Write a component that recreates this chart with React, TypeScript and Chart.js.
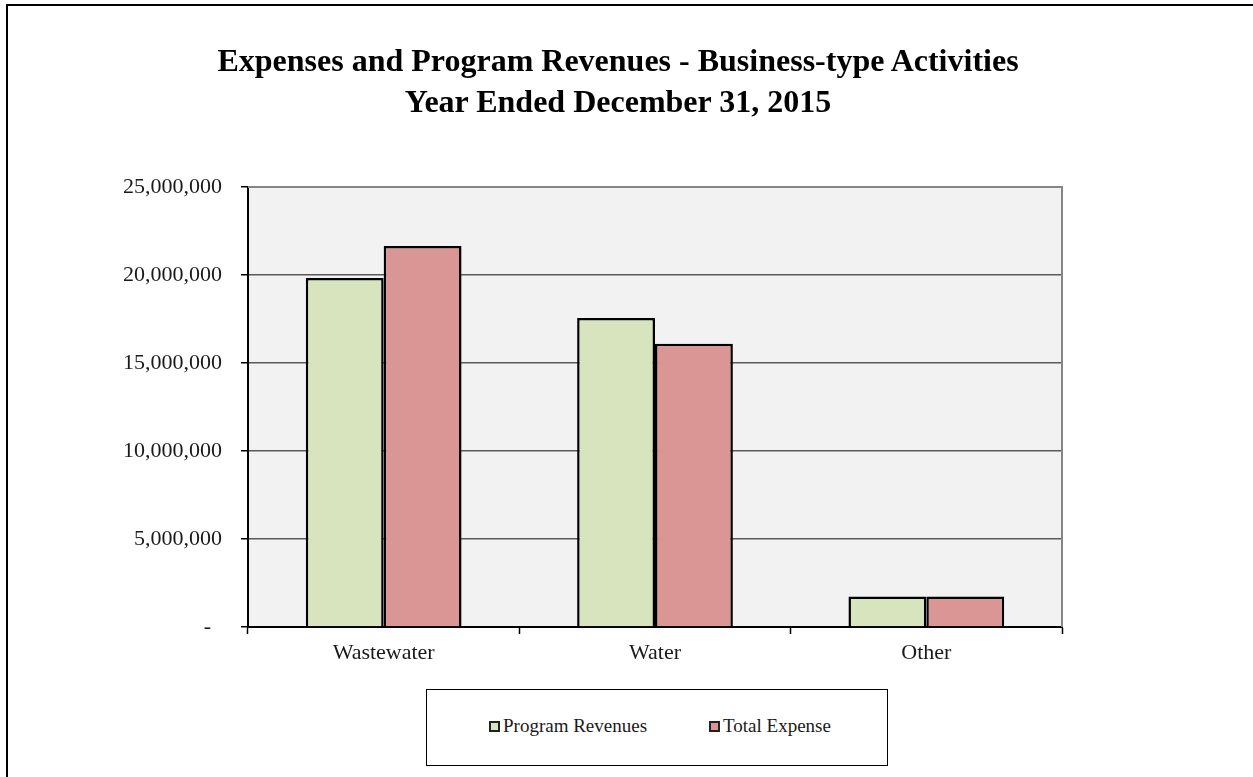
import React, { useEffect, useRef } from "react";
import { Chart, registerables } from "chart.js";

Chart.register(...registerables);

const categories = ["Wastewater", "Water", "Other"];
const programRevenues = [19830000, 17560000, 1740000];
const totalExpense = [21650000, 16100000, 1740000];
const yTicks = [0, 5000000, 10000000, 15000000, 20000000, 25000000];
const seriesNames = ["Program Revenues", "Total Expense"];
const seriesColors = ["#d7e4bd", "#d99694"];
const titleLines = ["Expenses and Program Revenues - Business-type Activities", "Year Ended December 31, 2015"];

const FONT = "'Liberation Serif', 'Times New Roman', serif";

const plotBg = {
  id: "plotBg",
  beforeDraw(chart: any) {
    const { ctx, chartArea: a } = chart;
    ctx.save();
    ctx.fillStyle = "#f2f2f2";
    ctx.fillRect(a.left, a.top, a.right - a.left, a.bottom - a.top);
    ctx.restore();
  },
  afterDatasetsDraw(chart: any) {
    const { ctx, chartArea: a } = chart;
    ctx.save();
    ctx.strokeStyle = "#858585";
    ctx.lineWidth = 2;
    ctx.beginPath();
    ctx.moveTo(a.left, a.top);
    ctx.lineTo(a.right, a.top);
    ctx.lineTo(a.right, a.bottom);
    ctx.stroke();
    ctx.restore();
  },
};

export default function App() {
  const ref = useRef<HTMLCanvasElement>(null);
  useEffect(() => {
    if (!ref.current) return;
    const chart = new Chart(ref.current, {
      type: "bar",
      data: {
        labels: categories,
        datasets: [
          {
            label: seriesNames[0],
            data: programRevenues,
            backgroundColor: seriesColors[0],
            borderColor: "#000000",
            borderWidth: 2.5,
            categoryPercentage: 0.574,
            barPercentage: 1,
          },
          {
            label: seriesNames[1],
            data: totalExpense,
            backgroundColor: seriesColors[1],
            borderColor: "#000000",
            borderWidth: 2.5,
            categoryPercentage: 0.574,
            barPercentage: 1,
          },
        ],
      },
      options: {
        animation: false,
        responsive: false,
        maintainAspectRatio: false,
        layout: { padding: { top: 187, left: 0, right: 191, bottom: 110 } },
        plugins: {
          legend: { display: false },
          title: { display: false },
          tooltip: { enabled: false },
        },
        scales: {
          x: {
            afterFit: (s: any) => {
              s.height = 40;
            },
            grid: {
              display: true,
              drawOnChartArea: false,
              drawTicks: true,
              tickLength: 7,
              tickColor: "#000000",
              tickWidth: 1.5,
              offset: true,
            },
            border: { display: true, color: "#000000", width: 2 },
            ticks: {
              color: "#1a1a1a",
              font: { family: FONT, size: 22 },
              padding: 6,
            },
          },
          y: {
            min: 0,
            max: 25000000,
            afterFit: (s: any) => {
              s.width = 248;
            },
            afterBuildTicks: (s: any) => {
              s.ticks = yTicks.map((v) => ({ value: v }));
            },
            grid: {
              color: "#5a5a5a",
              lineWidth: 1.5,
              drawTicks: true,
              tickLength: 7,
              tickColor: "#000000",
              tickWidth: 1.5,
            },
            border: { display: true, color: "#000000", width: 2 },
            ticks: {
              color: "#1a1a1a",
              font: { family: FONT, size: 22 },
              padding: 19,
              callback: (v: any) => (Number(v) === 0 ? "-  " : Number(v).toLocaleString("en-US")),
            },
          },
        },
      },
      plugins: [plotBg],
    });
    return () => chart.destroy();
  }, []);

  return (
    <div>
      <div
        style={{
          position: "fixed",
          left: 6,
          top: 4,
          width: 1400,
          height: 900,
          border: "2px solid #000",
          boxSizing: "border-box",
        }}
      />
      <canvas
        ref={ref}
        width={1253}
        height={777}
        style={{ position: "fixed", left: 0, top: 0, width: 1253, height: 777 }}
      />
      <div
        style={{
          position: "fixed",
          left: 0,
          width: 1236,
          top: 40,
          textAlign: "center",
          fontFamily: FONT,
          fontWeight: "bold",
          fontSize: 32,
          lineHeight: "41px",
          color: "#000",
        }}
      >
        {titleLines.map((t, i) => (
          <div key={i}>{t}</div>
        ))}
      </div>
      <div
        style={{
          position: "fixed",
          left: 426,
          top: 689,
          width: 462,
          height: 77,
          border: "1.5px solid #000",
          boxSizing: "border-box",
          background: "#fff",
        }}
      />
      {seriesNames.map((n, i) => (
        <div
          key={n}
          style={{
            position: "fixed",
            left: i === 0 ? 489 : 709,
            top: 715,
            display: "flex",
            alignItems: "center",
            fontFamily: FONT,
            fontSize: 19,
            color: "#1a1a1a",
            whiteSpace: "nowrap",
          }}
        >
          <span
            style={{
              display: "inline-block",
              width: 11,
              height: 11,
              boxSizing: "border-box",
              border: "2px solid #222",
              background: seriesColors[i],
              marginRight: 3,
            }}
          />
          <span>{n}</span>
        </div>
      ))}
    </div>
  );
}
